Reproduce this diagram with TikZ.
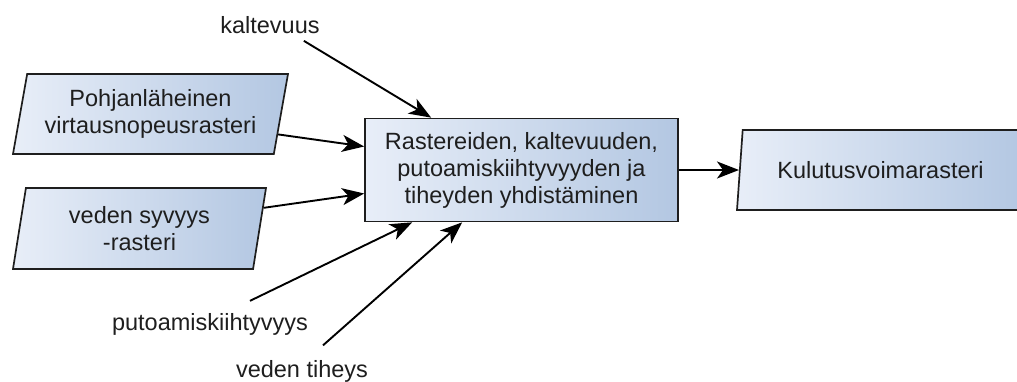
\documentclass[tikz,border=0pt]{standalone}
\usepackage{fontspec}
\setmainfont{Liberation Sans}
\usetikzlibrary{shapes.geometric,arrows.meta,calc}
\definecolor{fillA}{HTML}{E8EEF8}
\definecolor{fillB}{HTML}{B3C7E2}
\definecolor{ink}{HTML}{1E1E1E}
\begin{document}
\begin{tikzpicture}[x=1pt,y=-1pt,
  font=\fontsize{23.5}{27}\selectfont, text=ink,
  databox/.style={trapezium, trapezium left angle=75, trapezium right angle=105,
    trapezium stretches body, draw=ink, line width=1.7pt,
    left color=fillA, right color=fillB, align=center, inner sep=2pt},
  procbox/.style={rectangle, draw=ink, line width=1.7pt,
    left color=fillA, right color=fillB, align=center,
    minimum width=313pt, minimum height=103pt},
  lbl/.style={inner sep=0pt},
  arr/.style={-{Stealth[length=22pt,width=17pt,inset=6pt]}, line width=1.9pt, draw=black}]
\useasboundingbox (0,0) rectangle (1017,382);

% data sources, process and result
\node[databox, minimum width=275pt, minimum height=80pt] (p1) at (150.5,114)
  {Pohjanläheinen\\virtausnopeusrasteri};
\node[databox, minimum width=253pt, minimum height=81pt] (p2) at (139.5,228.5)
  {veden syvyys\\-rasteri};
\node[procbox] (c) at (521.5,170)
  {Rastereiden, kaltevuuden,\\putoamiskiihtyvyyden ja\\tiheyden yhdistäminen};
\node[databox, minimum width=287pt, minimum height=80pt] (out) at (880.5,170)
  {Kulutusvoimarasteri};

% parameters
\node[lbl] (k) at (270,25) {kaltevuus};
\node[lbl] (g) at (210,324) {putoamiskiihtyvyys};
\node[lbl] (t) at (302,371.5) {veden tiheys};

% connectors
\draw[arr] ($(p1.bottom right corner)!0.25!(p1.top right corner)$) -- ([yshift=23.5pt]c.west);
\draw[arr] ($(p2.bottom right corner)!0.75!(p2.top right corner)$) -- ([yshift=-23.5pt]c.west);
\draw[arr] ([shift={(-16pt,-7pt)}]k.south east) -- ([xshift=67pt]c.north west);
\draw[arr] ([shift={(40pt,12pt)}]g.north) -- ([xshift=48pt]c.south west);
\draw[arr] ([shift={(21pt,15pt)}]t.north) -- ([xshift=98pt]c.south west);
\draw[arr] (c.east) -- (c.east -| out.west);
\end{tikzpicture}
\end{document}
